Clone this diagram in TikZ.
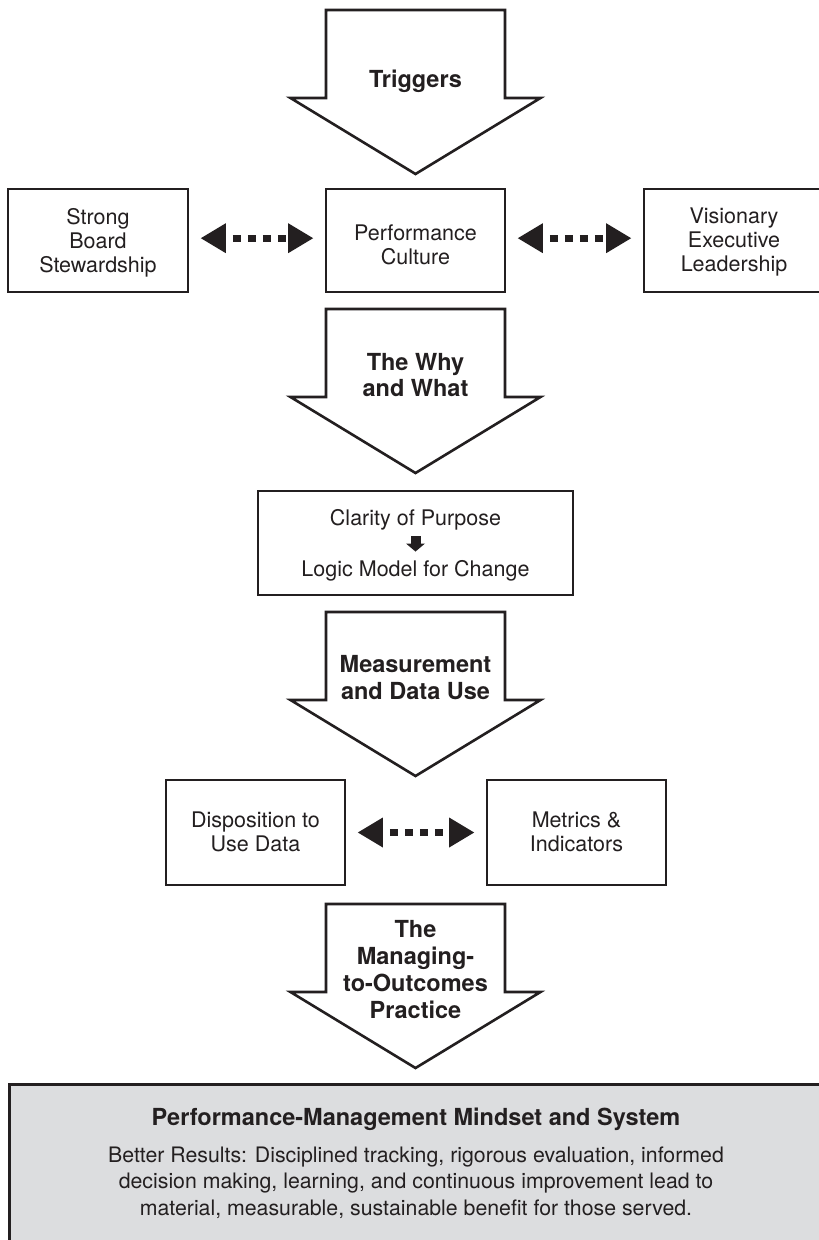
\documentclass[tikz,border=0pt]{standalone}
\usepackage{fontspec}
\setmainfont{TeX Gyre Heros}
\usetikzlibrary{arrows.meta}
\definecolor{inkc}{HTML}{231F20}
\definecolor{grayfill}{HTML}{DCDDDF}
\tikzset{
  boxnode/.style={draw=inkc, line width=2.7pt, rectangle, inner sep=0pt, minimum width=180pt, minimum height=103pt},
  boxtext/.style={text=inkc, align=center, inner sep=0pt, font=\fontsize{21.5}{24}\selectfont},
  arrowtext/.style={text=inkc, align=center, inner sep=0pt, font=\fontsize{23.5}{26.5}\selectfont\bfseries},
  blockarrow/.style={draw=inkc, line width=2.6pt, fill=white, line join=miter},
  dotconn/.style={draw=inkc, line width=7pt, dash pattern=on 8pt off 7pt, dash phase=8pt,
    arrows={Triangle[length=25pt,width=30pt,line width=0pt]-Triangle[length=25pt,width=30pt,line width=0pt]},
    shorten <=11.5pt, shorten >=11.5pt},
  smallarr/.style={draw=inkc, line width=10pt, arrows={-Triangle[length=8pt,width=19pt,line width=0pt]},
    shorten <=5.8pt, shorten >=9pt},
  bigarrow/.pic={\draw[blockarrow] (-89.5,0) -- (89.5,0) -- (89.5,88) -- (125,88) -- (0,164) -- (-125,88) -- (-89.5,88) -- cycle;}
}
\begin{document}
\begin{tikzpicture}[x=1pt, y=-1pt]
\useasboundingbox (0,0) rectangle (819,1240);
\fill[white] (0,0) rectangle (819,1240);

% block arrows
\pic at (415.5,10) {bigarrow};
\pic at (415.5,309) {bigarrow};
\pic at (415.5,612) {bigarrow};
\pic at (415.5,904) {bigarrow};
\node[arrowtext] (trig) at (415.5,81.5) {Triggers};
\node[arrowtext] (why) at (415.5,374.9) {The Why\\and What};
\node[arrowtext] (meas) at (415.5,677.5) {Measurement\\and Data Use};
\node[arrowtext, font=\fontsize{23.5}{27}\selectfont\bfseries] (mto) at (415.5,969.6) {The\\Managing-\\to-Outcomes\\Practice};

% top row
\node[boxnode] (sbs) at (98,240.5) {};
\node[boxtext] (sbst) at ([yshift=-1.9pt]sbs.center) {Strong\\Board\\Stewardship};
\node[boxnode, minimum width=179pt] (pc) at (415.5,240.5) {};
\node[boxtext] (pct) at ([yshift=-4.5pt]pc.center) {Performance\\Culture};
\node[boxnode] (vel) at (734,240.5) {};
\node[boxtext] (velt) at ([yshift=-1.9pt]vel.center) {Visionary\\Executive\\Leadership};
\draw[dotconn] ([yshift=2.3pt]sbs.east) -- ([yshift=2.3pt]pc.west);
\draw[dotconn] ([yshift=2.3pt]pc.east) -- ([yshift=2.3pt]vel.west);

% clarity box
\node[draw=inkc, line width=1.5pt, rectangle, inner sep=0pt, minimum width=315pt, minimum height=104pt] (cbox) at (415.5,543) {};
\node[boxtext] (clar) at (415.5,520.1) {Clarity of Purpose};
\node[boxtext] (logic) at (415.5,571.1) {Logic Model for Change};
\draw[smallarr] (clar) -- (logic);

% bottom row
\node[boxnode, minimum width=179pt, minimum height=105pt] (dud) at (255.5,832.5) {};
\node[boxtext] (dudt) at ([yshift=1pt]dud.center) {Disposition to\\Use Data};
\node[boxnode, minimum width=179pt, minimum height=105pt] (mi) at (576.5,832.5) {};
\node[boxtext] (mit) at ([yshift=1pt]mi.center) {Metrics \&\\Indicators};
\draw[dotconn] (dud) -- (mi);

% gray result box
\node[draw=inkc, line width=2.7pt, fill=grayfill, rectangle, inner sep=0pt, minimum width=816pt, minimum height=180pt, anchor=north west] (pm) at (8,1083) {};
\node[text=inkc, inner sep=0pt, font=\fontsize{23.5}{26.5}\selectfont\bfseries] (pmt) at (416,1118.9) {Performance-Management Mindset and System};
\node[text=inkc, align=center, inner sep=0pt, font=\fontsize{21.3}{26.5}\selectfont] (pmb) at (416,1182.3) {Better Results: Disciplined tracking, rigorous evaluation, informed\\decision making, learning, and continuous improvement lead to\\material, measurable, sustainable benefit for those served.};
\end{tikzpicture}
\end{document}
